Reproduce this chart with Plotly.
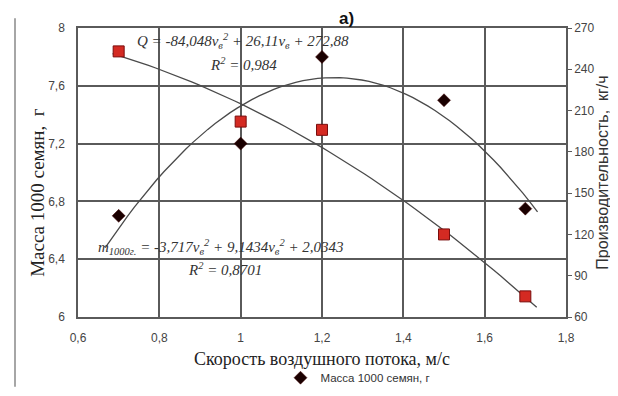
import numpy as np
import plotly.graph_objects as go

# Data
speed = [0.7, 1.0, 1.2, 1.5, 1.7]
mass_1000 = [6.70, 7.20, 7.80, 7.50, 6.75]
productivity = [253, 202, 196, 120, 75]

# Regression coefficients shown on chart
q_coef = [-84.048, 26.11, 272.88]
m_coef = [-3.717, 9.1434, 2.0343]
q_range = [0.685, 1.728]
m_range = [0.667, 1.73]

x_ticks = [0.6, 0.8, 1.0, 1.2, 1.4, 1.6, 1.8]

grid_col = "#5a5a5a"
tick_font = dict(family="Liberation Sans, Arial", size=12, color="#444")
serif = "Liberation Serif, Times New Roman"

xq = np.linspace(q_range[0], q_range[1], 60)
xm = np.linspace(m_range[0], m_range[1], 60)

fig = go.Figure()
fig.add_trace(go.Scatter(x=xq, y=np.polyval(q_coef, xq), mode="lines", yaxis="y2",
                         line=dict(color="#4a4a4a", width=1.3), showlegend=False, hoverinfo="skip"))
fig.add_trace(go.Scatter(x=xm, y=np.polyval(m_coef, xm), mode="lines",
                         line=dict(color="#4a4a4a", width=1.3), showlegend=False, hoverinfo="skip"))
fig.add_trace(go.Scatter(x=speed, y=productivity, mode="markers", yaxis="y2",
                         marker=dict(symbol="square", size=11, color="#d42a22",
                                     line=dict(color="#7a0d0d", width=1)),
                         showlegend=False))
fig.add_trace(go.Scatter(x=speed, y=mass_1000, mode="markers", name="Масса 1000 семян, г",
                         marker=dict(symbol="diamond", size=10, color="#1a0000",
                                     line=dict(color="#4a0a0a", width=0.5))))

fig.update_layout(
    width=618, height=396,
    margin=dict(l=70, r=60, t=20, b=78),
    paper_bgcolor="white", plot_bgcolor="white",
    separators=", ",
    showlegend=True,
    legend=dict(orientation="h", x=0.415, xanchor="left", y=-0.21, yanchor="middle",
                font=dict(family="Liberation Sans, Arial", size=11.5, color="#333"),
                itemwidth=30, bgcolor="rgba(0,0,0,0)"),
    xaxis=dict(range=[0.6, 1.8], tickvals=x_ticks, showgrid=True, gridcolor=grid_col, gridwidth=1.5,
               showline=True, linecolor=grid_col, linewidth=1.5, mirror=True, zeroline=False,
               tickfont=tick_font, ticks="outside", ticklen=9, tickcolor="rgba(0,0,0,0)",
               title=dict(text="Скорость воздушного потока, м/с",
                          font=dict(family=serif, size=18, color="#222"), standoff=8)),
    yaxis=dict(range=[6, 8], dtick=0.4, showgrid=True, gridcolor=grid_col, gridwidth=1.5,
               showline=True, linecolor=grid_col, linewidth=1.5, zeroline=False,
               tickfont=tick_font, ticks="outside", ticklen=9, tickcolor="rgba(0,0,0,0)"),
    yaxis2=dict(range=[60, 270], dtick=30, overlaying="y", side="right", showgrid=False,
                showline=True, linecolor=grid_col, linewidth=1.5, zeroline=False,
                ticks="outside", ticklen=4, tickcolor=grid_col,
                tickfont=tick_font,
                title=dict(text="Производительность,  кг/ч",
                           font=dict(family="Liberation Sans, Arial", size=16, color="#333"), standoff=1)),
)

# left axis title (placed lower, as in the reference)
fig.add_annotation(x=-40 / 488, y=(318 - 190) / 298, xref="paper", yref="paper",
                   text="Масса 1000 семян,  г", textangle=-90, showarrow=False,
                   font=dict(family=serif, size=19, color="#222"),
                   xanchor="center", yanchor="middle")

eq_font = dict(family=serif, size=15, color="#333", style="italic")
fig.add_annotation(x=(235 - 70) / 488, y=(318 - 33) / 298, xref="paper", yref="paper",
                   text="Q = -84,048v<sub>в</sub><sup>2</sup> + 26,11v<sub>в</sub> + 272,88",
                   showarrow=False, font=eq_font, xanchor="center", yanchor="middle")
fig.add_annotation(x=(235 - 70) / 488, y=(318 - 57) / 298, xref="paper", yref="paper",
                   text="R<sup>2</sup> = 0,984",
                   showarrow=False, font=eq_font, xanchor="center", yanchor="middle")
fig.add_annotation(x=(88 - 70) / 488, y=(318 - 246) / 298, xref="paper", yref="paper",
                   text="m<sub>1000г.</sub> = -3,717v<sub>в</sub><sup>2</sup> + 9,1434v<sub>в</sub><sup>2</sup> + 2,0343",
                   showarrow=False, font=eq_font, xanchor="left", yanchor="middle")
fig.add_annotation(x=(217 - 70) / 488, y=(318 - 268) / 298, xref="paper", yref="paper",
                   text="R<sup>2</sup> = 0,8701",
                   showarrow=False, font=eq_font, xanchor="center", yanchor="middle")
fig.add_annotation(x=(338 - 70) / 488, y=1 + 21 / 298, xref="paper", yref="paper",
                   text="<b>а)</b>", showarrow=False,
                   font=dict(family="Liberation Sans, Arial", size=17, color="#111"),
                   xanchor="center", yanchor="top", borderpad=0)
fig.add_shape(type="line", xref="paper", yref="paper",
              x0=-63 / 488, x1=-63 / 488, y0=1 + 10 / 298, y1=-72 / 298,
              line=dict(color="#888", width=1.5))

fig.write_html("out.html")
